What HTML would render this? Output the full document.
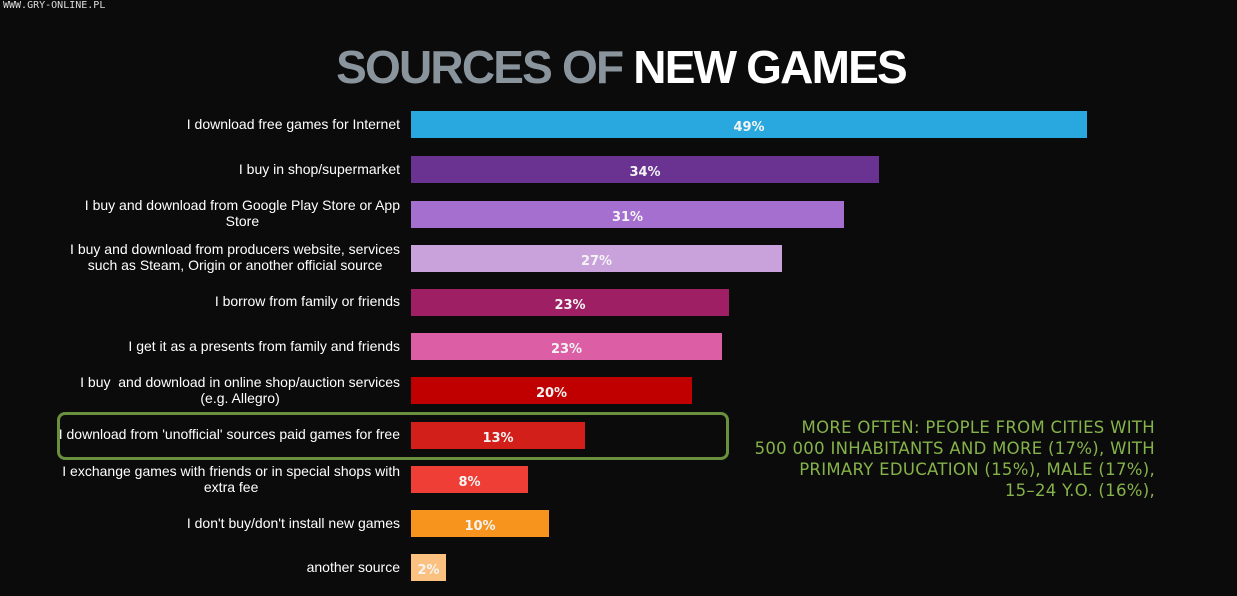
<!DOCTYPE html>
<html><head><meta charset="utf-8"><style>
body{margin:0;width:1237px;height:596px;background:#0b0b0b;position:relative;overflow:hidden;font-family:"Liberation Sans",Arial,sans-serif}
.wm{position:absolute;left:3px;top:0;color:#ddd;font:10px "DejaVu Sans Mono",monospace;letter-spacing:0}
.title{position:absolute;left:0;width:1242px;top:40px;text-align:center;font:bold 46px "Liberation Sans",sans-serif;letter-spacing:-1.8px;color:#fff}
.title span{color:#8a949c}
.bar{position:absolute;left:411px;height:27px;color:#f4f4f4;font:bold 13px "DejaVu Sans",sans-serif;text-align:center;line-height:33px}
.lab{position:absolute;right:837px;color:#fff;font-size:14px;line-height:16px;text-align:center;transform:translateY(-50%)}
.box{position:absolute;left:57px;top:412px;width:666px;height:42px;border:3px solid #6a8f3f;border-radius:8px}
.note{position:absolute;right:82px;top:417px;color:#86b24a;font:16.5px "DejaVu Sans",sans-serif;text-align:right;line-height:21px;letter-spacing:0.3px}
</style></head><body>
<div class="wm">WWW.GRY-ONLINE.PL</div>
<div class="title"><span>SOURCES OF</span> NEW GAMES</div>

<div class="bar" style="top:111px;width:676px;background:#29a8df">49%</div>
<div class="bar" style="top:156px;width:468px;background:#6a3391">34%</div>
<div class="bar" style="top:201px;width:433px;background:#a46fcf">31%</div>
<div class="bar" style="top:245px;width:371px;background:#c9a2dc">27%</div>
<div class="bar" style="top:289px;width:318px;background:#9e1f63">23%</div>
<div class="bar" style="top:333px;width:311px;background:#dc5ea4">23%</div>
<div class="bar" style="top:377px;width:281px;background:#c00000">20%</div>
<div class="bar" style="top:422px;width:174px;background:#d31f1a">13%</div>
<div class="bar" style="top:466px;width:117px;background:#ef3e36">8%</div>
<div class="bar" style="top:510px;width:138px;background:#f7941d">10%</div>
<div class="bar" style="top:554px;width:35px;background:#fbc181">2%</div>

<div class="lab" style="top:124px">I download free games for Internet</div>
<div class="lab" style="top:169px">I buy in shop/supermarket</div>
<div class="lab" style="top:213px">I buy and download from Google Play Store or App<br>Store</div>
<div class="lab" style="top:257px">I buy and download from producers website, services<br>such as Steam, Origin or another official source</div>
<div class="lab" style="top:301px">I borrow from family or friends</div>
<div class="lab" style="top:346px">I get it as a presents from family and friends</div>
<div class="lab" style="top:390px">I buy&nbsp; and download in online shop/auction services<br>(e.g. Allegro)</div>
<div class="lab" style="top:434px">I download from 'unofficial' sources paid games for free</div>
<div class="lab" style="top:479px">I exchange games with friends or in special shops with<br>extra fee</div>
<div class="lab" style="top:523px">I don't buy/don't install new games</div>
<div class="lab" style="top:567px">another source</div>

<div class="box"></div>
<div class="note">MORE OFTEN: PEOPLE FROM CITIES WITH<br>500 000 INHABITANTS AND MORE (17%), WITH<br>PRIMARY EDUCATION (15%), MALE (17%),<br>15–24 Y.O. (16%),</div>
</body></html>
